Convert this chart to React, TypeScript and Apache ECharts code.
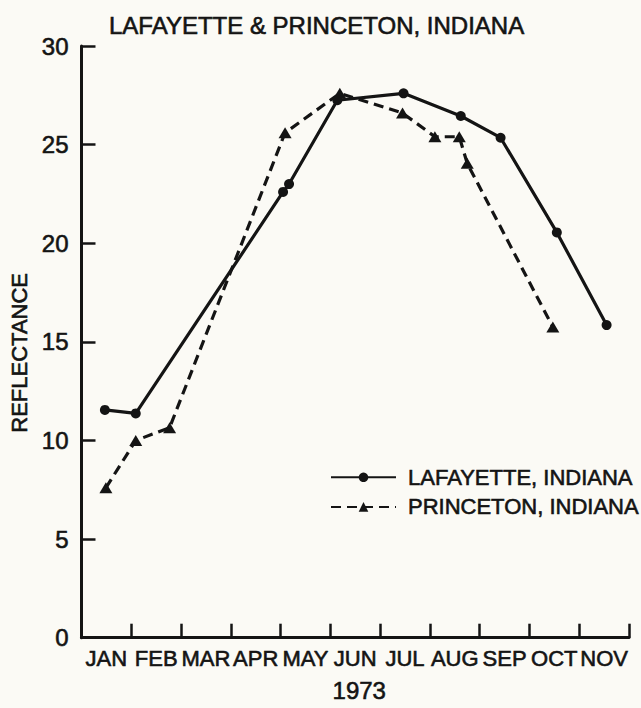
import React, { useEffect, useRef } from "react";
import * as echarts from "echarts";

const months = ["JAN", "FEB", "MAR", "APR", "MAY", "JUN", "JUL", "AUG", "SEP", "OCT", "NOV"];
const yTicks = [0, 5, 10, 15, 20, 25, 30];

// x positions in months elapsed since Jan 1, 1973
const lafayetteX = [0.47, 1.09, 4.05, 4.17, 5.14, 6.47, 7.62, 8.42, 9.55, 10.55];
const lafayetteY = [11.55, 11.37, 22.6, 23.0, 27.25, 27.6, 26.45, 25.35, 20.55, 15.85];
const princetonX = [0.49, 1.09, 1.77, 4.09, 5.19, 6.45, 7.1, 7.59, 7.75, 9.47];
const princetonY = [7.6, 10.0, 10.65, 25.6, 27.6, 26.6, 25.4, 25.4, 24.05, 15.75];

const FONT = "'Liberation Sans', Arial, sans-serif";
const INK = "#141414";
const heavy = { textBorderColor: INK, textBorderWidth: 0.6 };

export default function App() {
  const ref = useRef<HTMLDivElement>(null);
  useEffect(() => {
    if (!ref.current) return;
    const chart = echarts.init(ref.current, null, { renderer: "svg" });
    const lafData = lafayetteX.map((x, i) => [x, lafayetteY[i]]);
    const prData = princetonX.map((x, i) => [x, princetonY[i]]);
    chart.setOption({
      animation: false,
      backgroundColor: "#fbfaf5",
      title: {
        text: "LAFAYETTE & PRINCETON, INDIANA",
        left: 104,
        top: 8,
        textStyle: { fontFamily: FONT, fontSize: 24, fontWeight: "normal", color: INK, ...heavy },
      },
      grid: { left: 79, right: 12, top: 46, bottom: 63 },
      legend: {
        orient: "vertical",
        left: 325,
        top: 461,
        itemWidth: 65,
        itemHeight: 12,
        itemGap: 7,
        textStyle: { fontFamily: FONT, fontSize: 22, color: INK, padding: [0, 0, 0, 7], ...heavy },
        data: ["LAFAYETTE, INDIANA", "PRINCETON, INDIANA"],
      },
      xAxis: [
        {
          type: "value",
          min: 0,
          max: 11,
          interval: 1,
          name: "1973",
          nameLocation: "middle",
          nameGap: 41,
          nameTextStyle: { fontFamily: FONT, fontSize: 24, color: INK, padding: [0, 0, 0, 8], ...heavy },
          axisLine: { show: true, lineStyle: { color: INK, width: 3 } },
          axisTick: { show: true, inside: true, length: 14, lineStyle: { color: INK, width: 2.5 } },
          axisLabel: { show: false },
          splitLine: { show: false },
        },
        {
          type: "category",
          data: months,
          boundaryGap: true,
          position: "bottom",
          axisLine: { show: false },
          axisTick: { show: false },
          splitLine: { show: false },
          axisLabel: {
            interval: 0,
            margin: 10,
            fontFamily: FONT,
            fontSize: 22,
            color: INK,
            ...heavy,
          },
        },
      ],
      yAxis: {
        type: "value",
        min: 0,
        max: 30,
        interval: 5,
        name: "REFLECTANCE",
        nameLocation: "middle",
        nameGap: 49,
        nameRotate: 90,
        nameTextStyle: { fontFamily: FONT, fontSize: 22, color: INK, padding: [0, 22, 0, 0], ...heavy },
        axisLine: { show: true, lineStyle: { color: INK, width: 3 } },
        axisTick: { show: true, inside: true, length: 14, lineStyle: { color: INK, width: 2.5 } },
        axisLabel: {
          margin: 13,
          fontFamily: FONT,
          fontSize: 24,
          color: INK,
          padding: [8, 0, 0, 0],
          ...heavy,
          formatter: (v: number) => (yTicks.includes(v) ? String(v) : ""),
        },
        splitLine: { show: false },
      },
      series: [
        {
          name: "LAFAYETTE, INDIANA",
          type: "line",
          xAxisIndex: 0,
          data: lafData,
          symbol: "circle",
          symbolSize: 10,
          lineStyle: { color: INK, width: 3.2 },
          itemStyle: { color: INK },
        },
        {
          name: "PRINCETON, INDIANA",
          type: "line",
          xAxisIndex: 0,
          data: prData,
          symbol: "triangle",
          symbolSize: [13, 11],
          lineStyle: { color: INK, width: 3.2, type: [10, 6] },
          itemStyle: { color: INK },
        },
      ],
    });
    return () => chart.dispose();
  }, []);
  return <div ref={ref} style={{ width: 641, height: 708, position: "absolute", left: 0, top: 0 }} />;
}
